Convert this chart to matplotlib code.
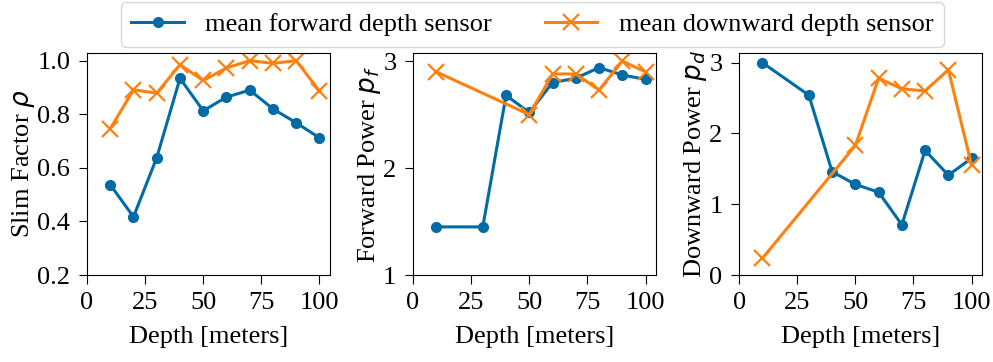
import numpy as np
import matplotlib
matplotlib.use("Agg")
import matplotlib.pyplot as plt

plt.style.use("tableau-colorblind10")
plt.rcParams["font.family"] = ["Liberation Serif", "DejaVu Serif"]
plt.rcParams["font.size"] = 19
plt.rcParams["xtick.major.size"] = 6.5
plt.rcParams["ytick.major.size"] = 6
plt.rcParams["xtick.major.pad"] = 5.5
plt.rcParams["ytick.major.pad"] = 6

### data
depth = [10, 20, 30, 40, 50, 60, 70, 80, 90, 100]
slim_fwd = [0.537, 0.417, 0.638, 0.934, 0.813, 0.864, 0.890, 0.820, 0.768, 0.712]
slim_down = [0.746, 0.891, 0.879, 0.985, 0.926, 0.973, 1.0, 0.99, 1.0, 0.886]

depth_fwd = [10, 30, 40, 50, 60, 70, 80, 90, 100]
pf_fwd = [1.45, 1.45, 2.68, 2.52, 2.80, 2.84, 2.94, 2.87, 2.83]
pd_fwd = [3.0, 2.54, 1.46, 1.28, 1.17, 0.71, 1.76, 1.41, 1.65]

depth_down = [10, 50, 60, 70, 80, 90, 100]
pf_down = [2.90, 2.50, 2.88, 2.88, 2.73, 3.0, 2.90]
pd_down = [0.235, 1.83, 2.78, 2.63, 2.60, 2.90, 1.55]

fig, axs = plt.subplots(1, 3, figsize=(9.93, 3.62), dpi=100)
fig.subplots_adjust(left=0.0876, right=0.989, bottom=0.2403, top=0.854, wspace=0.342)

panels = [
    (depth, slim_fwd, depth, slim_down, r"Slim Factor $\rho$", 0.2, [0.2, 0.4, 0.6, 0.8, 1.0]),
    (depth_fwd, pf_fwd, depth_down, pf_down, r"Forward Power $p_f$", 1, [1, 2, 3]),
    (depth_fwd, pd_fwd, depth_down, pd_down, r"Downward Power $p_d$", 0, [0, 1, 2, 3]),
]

for ax, (xf, yf, xd, yd, lab, ylo, yt) in zip(axs, panels):
    l1, = ax.plot(xf, yf, marker="o", markersize=7, linewidth=2.2, label="mean forward depth sensor")
    l2, = ax.plot(xd, yd, marker="x", markersize=11, markeredgewidth=1.6, linewidth=2.2,
                  label="mean downward depth sensor")
    ax.set_xlim(left=0)
    ax.set_ylim(bottom=ylo)
    ax.set_xticks([0, 25, 50, 75, 100])
    ax.set_yticks(yt)
    ax.set_xlabel("Depth [meters]", labelpad=9)
    ax.set_ylabel(lab, labelpad=0)

fig.legend(handles=[l1, l2], loc="upper center", bbox_to_anchor=(0.536, 1.03), ncol=2,
           fontsize=19, columnspacing=2.0, handlelength=2.0)

fig.savefig("out.png", dpi=100)
